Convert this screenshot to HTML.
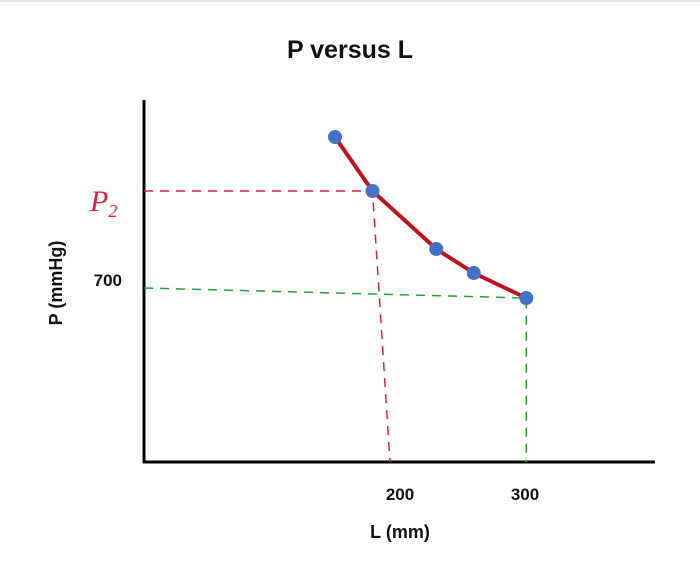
<!DOCTYPE html>
<html><head><meta charset="utf-8"><style>
body{margin:0;background:#fff;}
svg{display:block;font-family:"Liberation Sans",sans-serif;}
</style></head><body>
<svg id="chart" width="700" height="579" viewBox="0 0 700 579">
<rect width="700" height="579" fill="#fff"/>
<line x1="0" y1="1" x2="700" y2="1" stroke="#e6e6e6" stroke-width="2"/>
<text x="350" y="58" text-anchor="middle" font-size="25" font-weight="bold" fill="#111">P versus L</text>
<line x1="144" y1="100" x2="144" y2="463" stroke="#000" stroke-width="3"/>
<line x1="143" y1="462" x2="655" y2="462" stroke="#000" stroke-width="3"/>
<text x="62" y="283" text-anchor="middle" font-size="18" font-weight="bold" fill="#111" transform="rotate(-90 62 283)">P (mmHg)</text>
<text x="400" y="538" text-anchor="middle" font-size="18" font-weight="bold" fill="#111">L (mm)</text>
<text x="90" y="211" font-size="30" fill="#d9223a" font-family="'Liberation Serif',serif" font-style="italic">P<tspan font-size="18" dy="6">2</tspan></text>
<g id="marks"></g>
</svg>
<script>
const lengths=[148,178,229,259,301];
const pressures=[851,797,739,715,690];
const xTicks=[200,300];
const yTicks=[700];
const xS=v=>150+1.25*v;
const yS=v=>288-(v-700)*1.0;
const NS="http://www.w3.org/2000/svg";
const g=document.getElementById('marks');
function mk(t,a){const e=document.createElementNS(NS,t);for(const k in a)e.setAttribute(k,a[k]);g.appendChild(e);return e;}
xTicks.forEach(t=>{
 const e=mk('text',{x:xS(t),y:500,'text-anchor':'middle','font-size':17,'font-weight':'bold',fill:'#111'});
 e.textContent=t;
 
 
});
yTicks.forEach(t=>{
 const e=mk('text',{x:122,y:yS(t)-2,'text-anchor':'end','font-size':17,'font-weight':'bold',fill:'#111'});
 e.textContent=t;
 
 
});
// guide lines
const p2=1, last=lengths.length-1;
let l=mk('polyline',{points:`144,${yS(pressures[p2])} ${xS(lengths[p2])},${yS(pressures[p2])} ${xS(200)-10},462`,fill:'none',stroke:'#d9223a','stroke-width':1.5,'stroke-dasharray':'9 7'});


l=mk('polyline',{points:`144,${yS(700)} ${xS(lengths[last])},${yS(pressures[last])} ${xS(lengths[last])},462`,fill:'none',stroke:'#2a9a3a','stroke-width':1.5,'stroke-dasharray':'9 7'});


const pts=lengths.map((v,i)=>xS(v)+','+yS(pressures[i])).join(' ');
l=mk('polyline',{points:pts,fill:'none',stroke:'#c0121c','stroke-width':4,'stroke-linejoin':'round','stroke-linecap':'round'});


lengths.forEach((v,i)=>{
 const c=mk('circle',{cx:xS(v),cy:yS(pressures[i]),r:7,fill:'#4472c4'});
 
 
});
</script>
</body></html>
